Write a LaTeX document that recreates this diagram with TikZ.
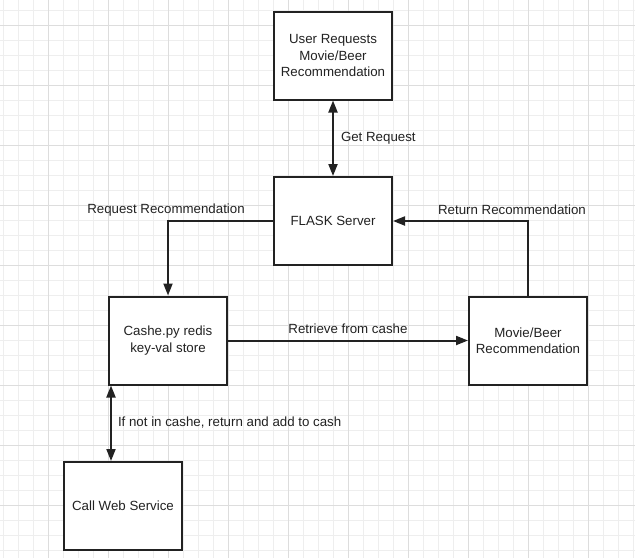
\documentclass[tikz,border=0pt]{standalone}
\usepackage{fontspec}
\setmainfont{Liberation Sans}
\usetikzlibrary{arrows.meta,calc}
\definecolor{gridminor}{HTML}{EEEEEE}
\definecolor{gridmajor}{HTML}{DDDDDD}
\definecolor{ink}{HTML}{222222}
\begin{document}
\begin{tikzpicture}[x=1pt,y=-1pt,
  box/.style={draw=ink,line width=2pt,fill=white,minimum width=118pt,minimum height=88pt,
    align=center,inner sep=2pt,font=\fontsize{13.3}{16.5}\selectfont,text=ink},
  lbl/.style={font=\fontsize{13.3}{16}\selectfont,text=ink,inner sep=0pt},
  conn/.style={draw=ink,line width=2pt},
  arr/.style={conn,-{Triangle[length=12pt,width=9pt]}},
  dbl/.style={conn,{Triangle[length=12pt,width=9pt]}-{Triangle[length=12pt,width=9pt]}}]
\useasboundingbox (0,0) rectangle (635,558);
\fill[white] (0,0) rectangle (635,558);
% grid
\foreach \i in {0,...,42} \draw[gridminor,line width=0.9pt] ({3.3+15*\i},0) -- ({3.3+15*\i},558);
\foreach \j in {0,...,37} \draw[gridminor,line width=0.9pt] (0,{10+15*\j}) -- (635,{10+15*\j});
\foreach \i in {0,...,10} \draw[gridmajor,line width=0.9pt] ({48.3+60*\i},0) -- ({48.3+60*\i},558);
\foreach \j in {0,...,9} \draw[gridmajor,line width=0.9pt] (0,{25+60*\j}) -- (635,{25+60*\j});
% boxes
\node[box] (user) at (333,55.5) {User Requests\\Movie/Beer\\Recommendation};
\node[box] (flask) at (333,221) {FLASK Server};
\node[box] (cashe) at (168,340.5) {Cashe.py redis\\key-val store};
\node[box] (movie) at (528,340.5) {Movie/Beer\\Recommendation};
\node[box] (call) at (123,506) {Call Web Service};
% connectors
\draw[dbl] (user.south) -- node[lbl,anchor=west,xshift=7pt,yshift=0pt] {Get Request} (flask.north);
\draw[arr] (flask.west) -| node[lbl,pos=0.5,anchor=south,yshift=4pt,xshift=-2pt] {Request Recommendation} (cashe.north);
\draw[arr] (movie.north) |- node[lbl,pos=0.5,anchor=south,xshift=-16pt,yshift=5pt] {Return Recommendation} (flask.east);
\draw[arr] (cashe.east) -- node[lbl,anchor=south,yshift=6pt] {Retrieve from cashe} (movie.west);
\draw[dbl] ([xshift=3pt]cashe.south west) -- node[lbl,anchor=west,xshift=6pt,yshift=1pt] {If not in cashe, return and add to cash} ([xshift=3pt]cashe.south west |- call.north);
\end{tikzpicture}
\end{document}
